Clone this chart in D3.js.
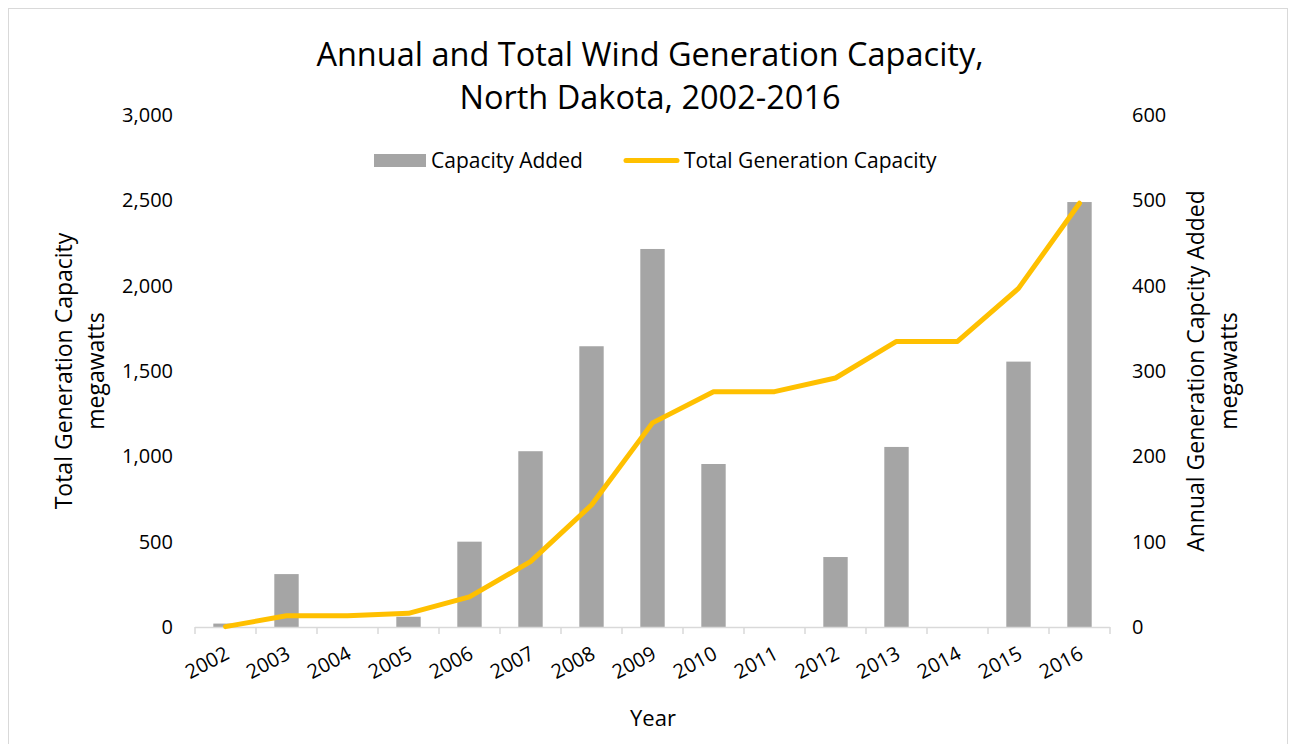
<!DOCTYPE html>
<html>
<head>
<meta charset="utf-8">
<script src="https://cdn.jsdelivr.net/npm/d3@7"></script>
<style>
  body { margin: 0; background: #fff; }
  svg text { font-family: "Open Sans", sans-serif; fill: #000; }
</style>
</head>
<body>
<svg width="1295" height="744"></svg>
<script>
// values
let years      = ["2002","2003","2004","2005","2006","2007","2008","2009","2010","2011","2012","2013","2014","2015","2016"];
let added      = [4, 62, 0, 12, 100, 206, 329, 443, 191, 0, 82, 211, 0, 311, 498];
let total      = [2, 66, 66, 80, 177, 383, 715, 1196, 1379, 1379, 1459, 1673, 1673, 1984, 2483];
let leftTicks  = [0, 500, 1000, 1500, 2000, 2500, 3000];
let rightTicks = [0, 100, 200, 300, 400, 500, 600];

let colourBar  = "#a5a5a5";
let colourLine = "#ffc000";
let colourAxis = "#d9d9d9";

let svg = d3.select("svg");

// chart border
svg.append("rect")
  .attr("x", 8.5).attr("y", 8.5)
  .attr("width", 1279).attr("height", 760)
  .attr("fill", "none")
  .attr("stroke", colourAxis);

let plotL = 195, plotR = 1110, plotT = 115, plotB = 627;

let x = d3.scaleBand()
  .domain(years)
  .range([plotL, plotR])
  .paddingInner(0.6)
  .paddingOuter(0.3);

let yL = d3.scaleLinear().domain([0, 3000]).range([plotB, plotT]);
let yR = d3.scaleLinear().domain([0, 600]).range([plotB, plotT]);

let step = x.step();
let cx = d => x(d) + x.bandwidth() / 2;

// title
svg.append("text")
  .attr("x", 650).attr("y", 66)
  .attr("text-anchor", "middle")
  .style("font-size", "32.5px")
  .text("Annual and Total Wind Generation Capacity,");
svg.append("text")
  .attr("x", 650).attr("y", 109)
  .attr("text-anchor", "middle")
  .style("font-size", "32.5px")
  .text("North Dakota, 2002-2016");

// bars
svg.selectAll(".bar")
  .data(years)
  .enter().append("rect")
    .attr("class", "bar")
    .attr("x", d => x(d))
    .attr("width", x.bandwidth())
    .attr("y", (d, i) => yR(added[i]))
    .attr("height", (d, i) => plotB - yR(added[i]))
    .attr("fill", colourBar);

// x axis line and boundary ticks
svg.append("line")
  .attr("x1", plotL).attr("x2", plotR)
  .attr("y1", plotB + 0.5).attr("y2", plotB + 0.5)
  .attr("stroke", colourAxis).attr("stroke-width", 1.5);
svg.selectAll(".bound")
  .data(d3.range(years.length + 1))
  .enter().append("line")
    .attr("x1", i => plotL + i * step).attr("x2", i => plotL + i * step)
    .attr("y1", plotB).attr("y2", plotB + 7)
    .attr("stroke", colourAxis).attr("stroke-width", 1.5);

// line
let line = d3.line()
  .x(d => cx(d[0]))
  .y(d => yL(d[1]));
svg.append("path")
  .datum(years.map((y, i) => [y, total[i]]))
  .attr("d", line)
  .attr("fill", "none")
  .attr("stroke", colourLine)
  .attr("stroke-width", 5)
  .attr("stroke-linejoin", "round")
  .attr("stroke-linecap", "round");

// x tick labels
let gx = svg.append("g")
  .attr("transform", `translate(0,${plotB})`)
  .call(d3.axisBottom(x).tickSize(0).tickPadding(0));
gx.select(".domain").remove();
gx.selectAll("text")
  .style("font-size", "20px")
  .attr("text-anchor", "end")
  .attr("dy", null)
  .attr("transform", "translate(5,31) rotate(-28)");

// left axis
let gl = svg.append("g")
  .attr("transform", `translate(${plotL},0)`)
  .call(d3.axisLeft(yL).tickValues(leftTicks).tickFormat(d3.format(",")).tickSize(0).tickPadding(22));
gl.select(".domain").remove();
gl.selectAll("text").style("font-size", "20px");

// right axis
let gr = svg.append("g")
  .attr("transform", `translate(${plotR},0)`)
  .call(d3.axisRight(yR).tickValues(rightTicks).tickSize(0).tickPadding(22));
gr.select(".domain").remove();
gr.selectAll("text").style("font-size", "20px");

// axis titles
let midY = 371;
svg.append("text")
  .attr("transform", `translate(72,${midY}) rotate(-90)`)
  .attr("text-anchor", "middle")
  .style("font-size", "23px")
  .text("Total Generation Capacity");
svg.append("text")
  .attr("transform", `translate(104,${midY}) rotate(-90)`)
  .attr("text-anchor", "middle")
  .style("font-size", "23px")
  .text("megawatts");
svg.append("text")
  .attr("transform", `translate(1204,${midY}) rotate(-90)`)
  .attr("text-anchor", "middle")
  .style("font-size", "23px")
  .text("Annual Generation Capcity Added");
svg.append("text")
  .attr("transform", `translate(1237,${midY}) rotate(-90)`)
  .attr("text-anchor", "middle")
  .style("font-size", "23px")
  .text("megawatts");
svg.append("text")
  .attr("x", 653).attr("y", 726)
  .attr("text-anchor", "middle")
  .style("font-size", "22px")
  .text("Year");

// legend
let lg = svg.append("g");
lg.append("rect")
  .attr("x", 374).attr("y", 154)
  .attr("width", 52).attr("height", 13)
  .attr("fill", colourBar);
lg.append("text")
  .attr("x", 431).attr("y", 168)
  .style("font-size", "21px")
  .text("Capacity Added");
lg.append("line")
  .attr("x1", 626).attr("x2", 677)
  .attr("y1", 160.5).attr("y2", 160.5)
  .attr("stroke", colourLine)
  .attr("stroke-width", 5)
  .attr("stroke-linecap", "round");
lg.append("text")
  .attr("x", 684).attr("y", 168)
  .style("font-size", "21px")
  .text("Total Generation Capacity");
</script>
</body>
</html>
